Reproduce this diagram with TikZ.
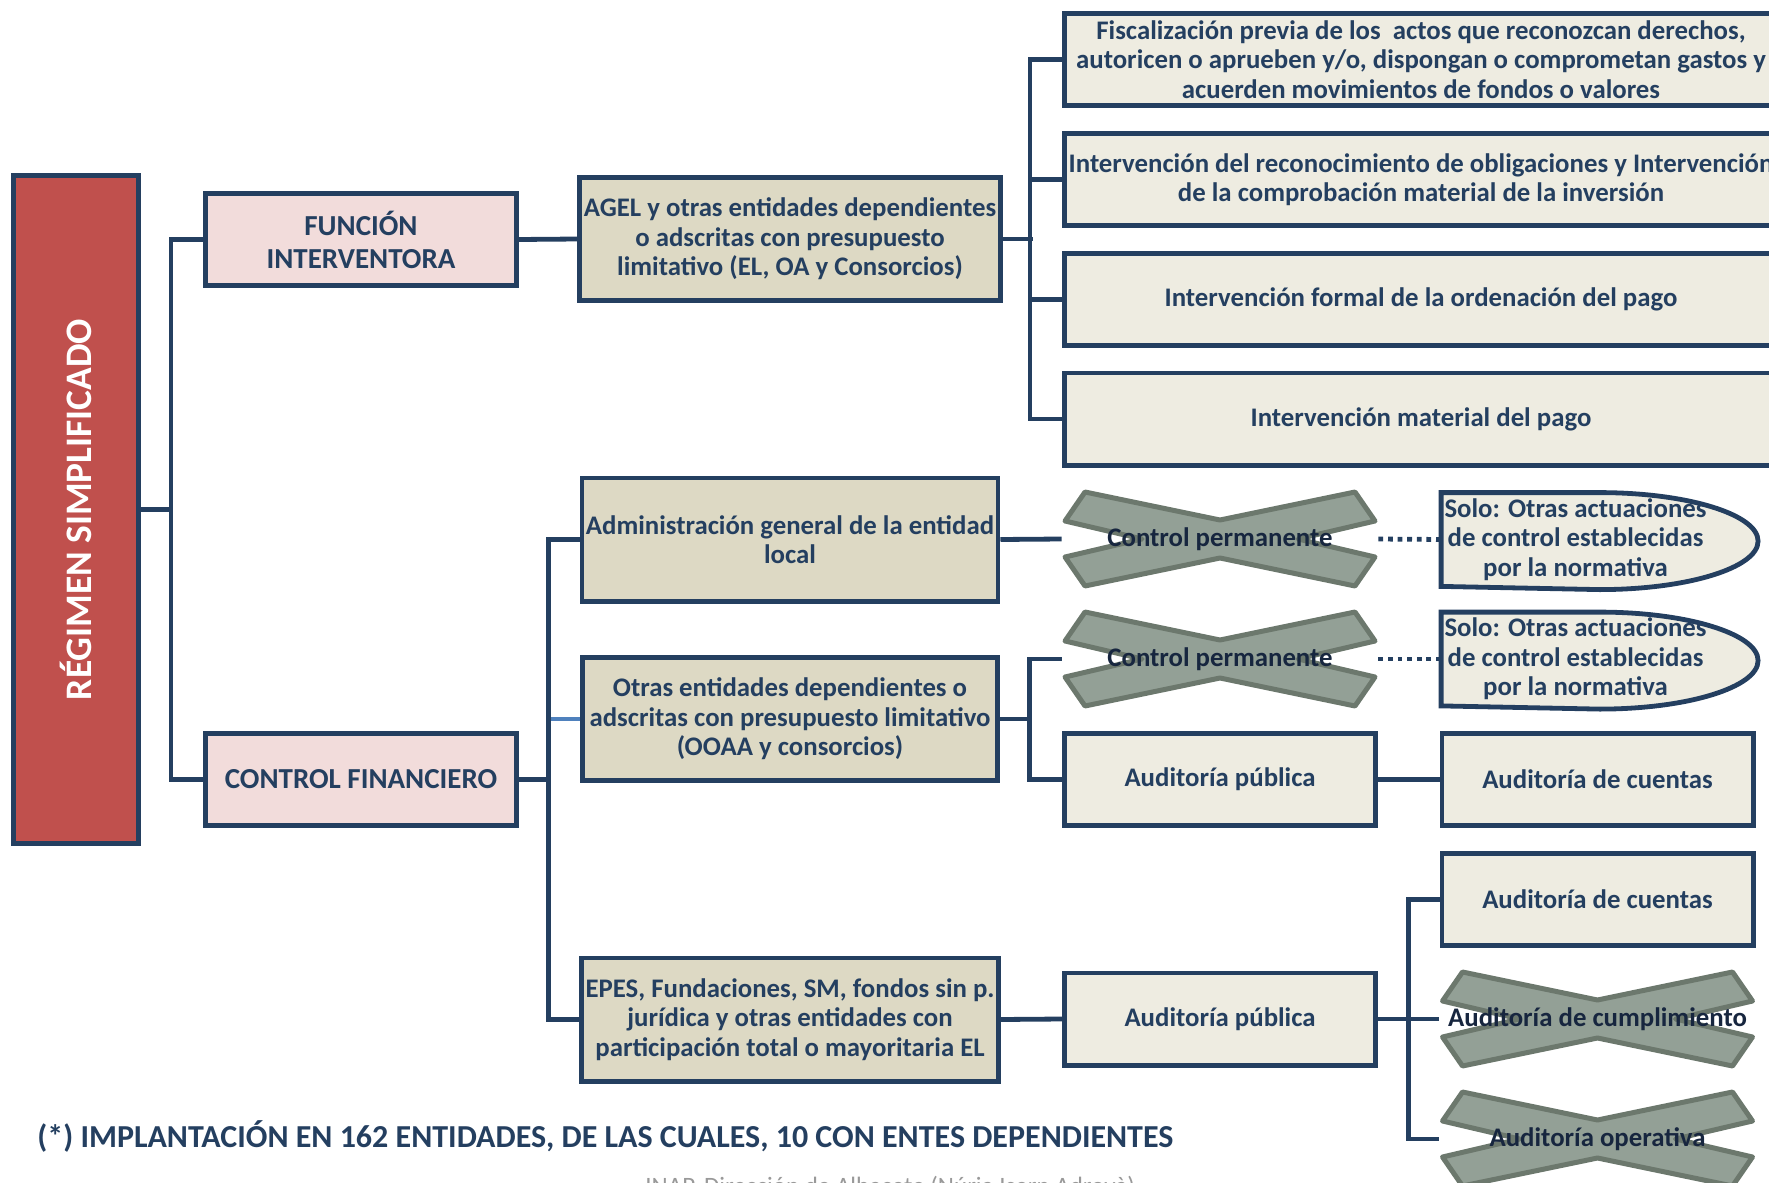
\documentclass[tikz,border=0pt]{standalone}
\usepackage{fontspec}
\setmainfont{Carlito}
\usetikzlibrary{backgrounds}

\definecolor{azul}{HTML}{243F60}
\definecolor{tinta}{HTML}{17263F}
\definecolor{rojo}{HTML}{C0504D}
\definecolor{rosa}{HTML}{F2DCDB}
\definecolor{beige}{HTML}{DDD9C4}
\definecolor{crema}{HTML}{EEECE1}
\definecolor{grisx}{HTML}{93A096}
\definecolor{grisborde}{HTML}{6C786D}
\definecolor{azulclaro}{HTML}{4F81BD}

\tikzset{
  texto/.style={font=\bfseries\fontsize{13.4}{14.7}\selectfont, align=center, text=azul},
  caja/.style={texto, draw=azul, line width=2.4pt, inner sep=2pt},
  cajaclara/.style={caja, fill=crema},
  cajabeige/.style={caja, fill=beige, minimum width=207.6pt, minimum height=61.6pt},
  cajarosa/.style={caja, fill=rosa, minimum width=155.6pt, minimum height=46.1pt,
    font=\bfseries\fontsize{14.5}{16.5}\selectfont},
  cajaaud/.style={cajaclara, minimum width=155.6pt, minimum height=46.1pt},
  cajalarga/.style={cajaclara, minimum width=356.6pt, minimum height=46.1pt},
  tachado/.style={texto, text=tinta, minimum width=158pt, minimum height=48.5pt},
  hueco/.style={minimum width=156pt, minimum height=46.5pt, inner sep=0pt},
  linea/.style={draw=azul, line width=2.4pt},
  punteado/.style={linea, dash pattern=on 2.4pt off 2.4pt},
  equis/.style={fill=grisx, draw=grisborde, line width=2.5pt, line join=round},
}

\begin{document}
\begin{tikzpicture}[x=0.5pt, y=-0.5pt]
\useasboundingbox (0,0) rectangle (1769,1183);
\clip (0,0) rectangle (1769,1183);

%%%%% columna izquierda %%%%%
\node[caja, fill=rojo, text=white, rotate=90, minimum width=334.1pt, minimum height=62.6pt,
  font=\bfseries\fontsize{18.7}{20}\selectfont] (reg) at (76,509.5) {RÉGIMEN SIMPLIFICADO};
\node[cajarosa] (funint) at (361,239.5) {FUNCIÓN\\INTERVENTORA};
\node[cajarosa] (confin) at (361,779.5) {CONTROL FINANCIERO};

%%%%% entidades %%%%%
\node[cajabeige] (agel) at (790,239) {AGEL y otras entidades dependientes\\o adscritas con presupuesto\\limitativo (EL, OA y Consorcios)};
\node[cajabeige] (admin) at (790,539.5) {Administración general de la entidad\\local};
\node[cajabeige] (otras) at (790,719) {Otras entidades dependientes o\\adscritas con presupuesto limitativo\\(OOAA y consorcios)};
\node[cajabeige] (epes) at (790,1019.5) {EPES, Fundaciones, SM, fondos sin p.\\jurídica y otras entidades con\\participación total o mayoritaria EL};

%%%%% funcion interventora %%%%%
\node[cajalarga] (fisc) at (1421,59.5) {Fiscalización previa de los\ \ actos que reconozcan derechos,\\autoricen o aprueben y/o, dispongan o comprometan gastos y\\acuerden movimientos de fondos o valores};
\node[cajalarga] (obli) at (1421,179.5) {Intervención del reconocimiento de obligaciones y Intervención\\de la comprobación material de la inversión};
\node[cajalarga] (orden) at (1421,299.5) {Intervención formal de la ordenación del pago};
\node[cajalarga] (pago) at (1421,419) {Intervención material del pago};

%%%%% control financiero %%%%%
\node[tachado] (cp1) at (1220,539) {Control permanente};
\node[tachado] (cp2) at (1220,659) {Control permanente};
\node[hueco] (solo1) at (1597.5,539.5) {};
\node[hueco] (solo2) at (1597.5,659) {};
\node[cajaaud] (ap1) at (1220,779.5) {Auditoría pública};
\node[cajaaud] (ac1) at (1597.5,779.5) {Auditoría de cuentas};
\node[cajaaud] (ac2) at (1597.5,899.5) {Auditoría de cuentas};
\node[cajaaud] (ap2) at (1220,1019) {Auditoría pública};
\node[tachado] (acum) at (1597.5,1019) {Auditoría de cumplimiento};
\node[tachado] (aope) at (1597.5,1139) {Auditoría operativa};

\begin{scope}[on background layer]
\foreach \n in {cp1,cp2,acum,aope}{
  \begin{scope}[shift={(\n.center)}]
  \draw[equis] (-135,-47) -- (0,-19) -- (135,-47) -- (155,-18) -- (78,0) -- (155,18)
    -- (135,47) -- (0,19) -- (-135,47) -- (-155,18) -- (-78,0) -- (-155,-18) -- cycle;
  \end{scope}
}
\end{scope}

\foreach \n in {solo1,solo2}{
  \draw[linea, fill=crema] (\n.north west) -- ++(158.5,0)
    arc[start angle=90, end angle=-90, x radius=79.25pt, y radius=24.25pt]
    -- (\n.south west) -- cycle;
  \node[texto] (\n t) at ([xshift=-11pt]\n.center) {Solo: Otras actuaciones\\de control establecidas\\por la normativa};
}

%%%%% conectores %%%%%
\draw[linea] (reg.south) -- ++(30,0);
\draw[linea] (funint.west) -- ++(-32,0) |- (confin.west);
\draw[linea] (funint.east) -- (agel.west);
\draw[linea] (agel.east) -- ++(30,0);
\draw[linea] (fisc.west) -- ++(-32,0) |- (pago.west);
\foreach \n in {obli,orden}{
  \draw[linea] (\n.west) -- ++(-32,0);
}
\draw[linea] (confin.east) -- ++(30,0);
\draw[line width=2.4pt, azulclaro] (otras.west) -- ++(-31,0);
\draw[linea] (admin.west) -- ++(-31,0) |- (epes.west);
\draw[linea] (admin.east) -- (cp1.west);
\draw[linea] (otras.east) -- ++(30,0);
\draw[linea] (cp2.west) -- ++(-32,0) |- (ap1.west);
\draw[punteado] (cp1.east) -- (solo1.west);
\draw[punteado] (cp2.east) -- (solo2.west);
\draw[linea] (ap1.east) -- (ac1.west);
\draw[linea] (epes.east) -- (ap2.west);
\draw[linea] (ap2.east) -- ++(30,0);
\draw[linea] (ac2.west) -- ++(-31,0) |- (aope.west);
\draw[linea] (acum.west) -- ++(-31,0);

%%%%% notas %%%%%
\node[anchor=west, inner sep=0pt, text=azul, font=\bfseries\fontsize{16}{18}\selectfont] (nota) at (37,1136)
  {(*) IMPLANTACIÓN EN 162 ENTIDADES, DE LAS CUALES, 10 CON ENTES DEPENDIENTES};
\node[anchor=base west, inner sep=0pt, text=black!40, font=\fontsize{12.5}{15}\selectfont] (pie) at (645,1194)
  {INAP. Dirección de Albacete (Núria Isern Adrovà)};
\end{tikzpicture}
\end{document}
